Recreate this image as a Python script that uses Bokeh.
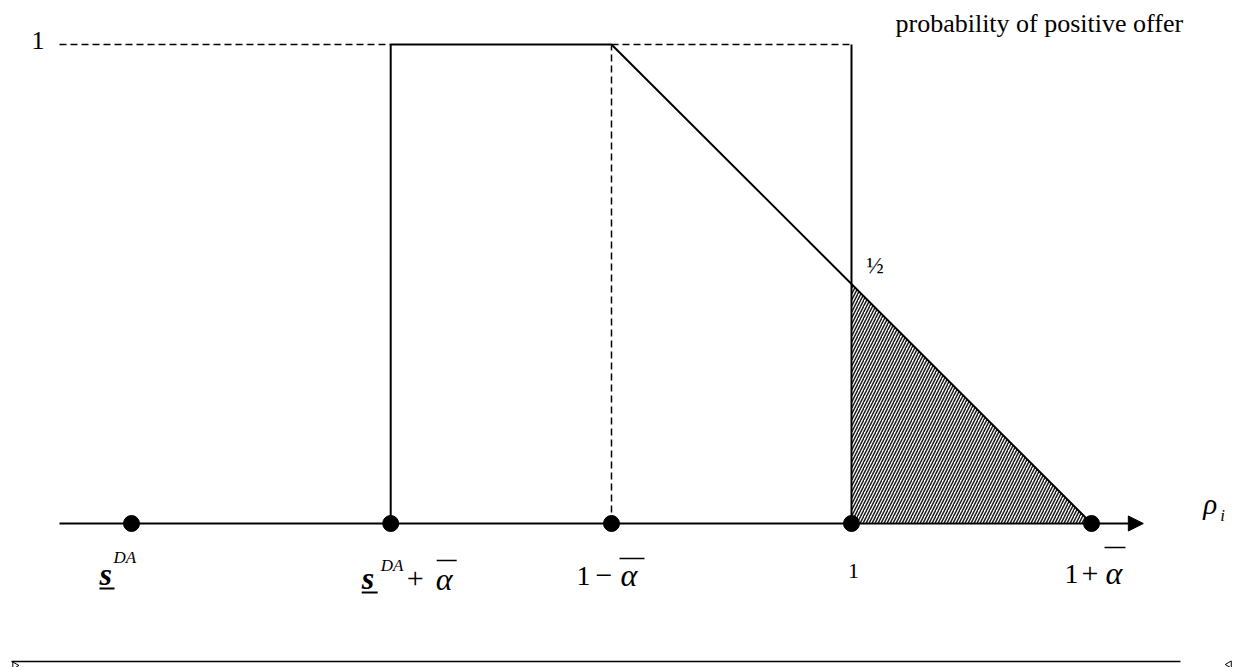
import math
from bokeh.plotting import figure
from bokeh.models import Range1d, Arrow, NormalHead
from bokeh.core.properties import value
from bokeh.embed import file_html
from bokeh.resources import INLINE

# ---------------- data ----------------
point_names = ["s_DA", "s_DA + alpha_bar", "1 - alpha_bar", "1", "1 + alpha_bar"]
point_x = [-0.5, 0.04, 0.5, 1.0, 1.5]
point_y = [0, 0, 0, 0, 0]

prob_x = [0.04, 0.04, 0.5, 1.5]      # solid probability profile
prob_y = [0, 1, 1, 0]
cut_x = [1.0, 1.0]                   # solid vertical at rho = 1
cut_y = [0, 1]
guide_left_x = [-0.65, 0.04]         # dashed level 1 (left)
guide_left_y = [1, 1]
guide_right_x = [0.5, 1.0]           # dashed level 1 (right)
guide_right_y = [1, 1]
guide_vert_x = [0.5, 0.5]            # dashed vertical at 1 - alpha
guide_vert_y = [0, 1]
shade_x = [1.0, 1.0, 1.5]            # hatched triangle
shade_y = [0, 0.5, 0]
axis_x = [-0.65, 1.608]
half_x, half_y = 1.0, 0.5
one_y = 1.0

# ---------------- figure ----------------
W, H = 1244, 667
X0, X1 = -0.772917, 1.81875
Y0, Y1 = -0.300626, 1.091858
SX = W / (X1 - X0)
SY = H / (Y1 - Y0)

p = figure(width=W, height=H, x_range=Range1d(X0, X1), y_range=Range1d(Y0, Y1),
           output_backend="svg", toolbar_location=None, min_border=0)
p.axis.visible = False
p.grid.visible = False
p.outline_line_color = None
p.background_fill_color = "white"
p.border_fill_color = "white"

FONT = value("Liberation Serif")

# hatched region
p.patch(shade_x, shade_y, fill_color=None, line_color=None,
        hatch_pattern="/", hatch_color="#1a1a1a", hatch_weight=1.5, hatch_scale=6)

# dashed guides
for gx, gy in [(guide_left_x, guide_left_y), (guide_right_x, guide_right_y),
               (guide_vert_x, guide_vert_y)]:
    p.line(gx, gy, line_color="black", line_width=1.5, line_dash="7 4")

# solid lines
p.line(prob_x, prob_y, line_color="black", line_width=2)
p.line(cut_x, cut_y, line_color="black", line_width=2)

# horizontal axis with arrow
p.add_layout(Arrow(end=NormalHead(size=15, fill_color="black", line_color="black"),
                   x_start=axis_x[0], y_start=0, x_end=axis_x[1], y_end=0,
                   line_width=2, line_color="black"))

# points
p.scatter(point_x, point_y, size=16, fill_color="black", line_color="black")


def txt(x, y, s, dx, dy, size, style="normal", align="left"):
    p.text(x=[x], y=[y], text=[s], x_offset=dx, y_offset=dy - 0.33 * size, text_font=FONT,
           text_font_size=f"{size}px", text_font_style=style, text_align=align,
           text_baseline="alphabetic", text_color="black")


def bar(x, y, px0, px1, py, w=2):
    p.segment(x0=[x + px0 / SX], y0=[y - py / SY], x1=[x + px1 / SX], y1=[y - py / SY],
              line_color="black", line_width=w)


xs, xsa, x1a, x1, x1p = point_x
# s^DA
txt(xs, 0, "s", -32, 61, 32, "bold italic")
bar(xs, 0, -32, -17, 65)
txt(xs, 0, "DA", -18, 40, 17, "italic")
# s^DA + alpha
txt(xsa, 0, "s", -29, 65, 32, "bold italic")
bar(xsa, 0, -29, -13, 69)
txt(xsa, 0, "DA", -10, 48, 17, "italic")
txt(xsa, 0, "+", 16, 65, 30)
txt(xsa, 0, "α", 45, 66, 32, "italic")
bar(xsa, 0, 46, 66, 37, 1.5)
# 1 - alpha
txt(x1a, 0, "1", -35, 62, 28)
txt(x1a, 0, "−", -16, 62, 30)
txt(x1a, 0, "α", 9, 62, 32, "italic")
bar(x1a, 0, 8, 33, 35, 1.5)
# 1
txt(x1, 0, "1", 2, 55, 22, align="center")
# 1 + alpha
txt(x1p, 0, "1", -27, 60, 28)
txt(x1p, 0, "+", -10, 60, 30)
txt(x1p, 0, "α", 14, 60, 32, "italic")
bar(x1p, 0, 13, 34, 24, 1.5)
# rho_i
txt(axis_x[1], 0, "ρ", 60, -10, 29, "italic")
txt(axis_x[1], 0, "i", 77, -2, 17, "italic")
# 1/2
txt(half_x, half_y, "½", 15, -11, 23)
# y label
txt(x1, one_y, "probability of positive offer", 44, -12, 26)
txt(axis_x[0], one_y, "1", -15, 5, 26, align="right")

# bottom rule with end marks
rule_y = -0.2881
p.segment(x0=[-0.75], y0=[rule_y], x1=[1.6854], y1=[rule_y], line_color="black", line_width=1.5)
p.scatter([-0.743], [rule_y - 4 / SY], marker="triangle", angle=-math.pi / 2, size=7,
          fill_color=None, line_color="black", line_width=1)
p.scatter([1.787], [rule_y - 3 / SY], marker="triangle", angle=math.pi / 2, size=7,
          fill_color=None, line_color="black", line_width=1)

open("out.html", "w").write(file_html(p, INLINE))
